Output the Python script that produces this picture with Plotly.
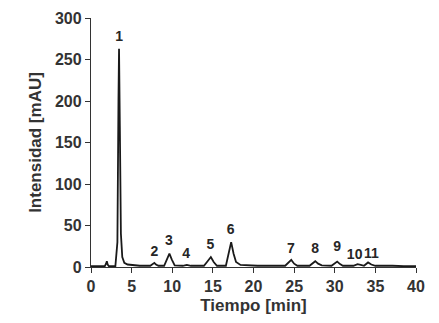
import plotly.graph_objects as go

# Chromatogram trace
time_min = [0, 1.7, 1.85, 1.95, 2.05, 2.2, 3.0, 3.25, 3.38, 3.45, 3.55, 3.68, 3.85, 4.1, 4.5, 5.2, 6.0, 7.3,
            7.6, 7.8, 8.0, 8.3, 9.0, 9.35, 9.65, 9.95, 10.3, 11.3, 11.8, 12.3, 13.9, 14.35, 14.75, 15.1, 15.5,
            16.6, 16.95, 17.25, 17.55, 17.85, 18.4, 19.2, 20.5, 23.9, 24.3, 24.65, 25.0, 25.4, 26.9, 27.25,
            27.6, 27.95, 28.4, 29.6, 29.95, 30.3, 30.65, 31.0, 32.3, 32.8, 33.2, 33.6, 34.1, 34.5, 35.0, 36.1,
            36.6, 37.1, 38.5, 40]
intensity = [1, 1, 4, 7, 3, 1, 1, 30, 200, 263, 170, 40, 12, 5, 3, 2, 1.5, 1.5,
             3, 5, 3, 1.5, 1.5, 9, 16, 9, 2, 1.5, 2.5, 1.5, 1.5, 7, 12, 6, 1.5,
             1.5, 16, 30, 16, 6, 2.5, 2, 1.5, 1.5, 5, 8.5, 4, 1.5, 1.5, 4,
             7, 4, 2, 1.5, 4, 6.5, 3.5, 1.5, 1.5, 3.5, 2.5, 1.5, 5.5, 3, 1.5, 1.5,
             2, 1.5, 1, 1]

peak_labels = ["1", "2", "3", "4", "5", "6", "7", "8", "9", "10", "11"]
label_x = [3.45, 7.8, 9.6, 11.7, 14.7, 17.2, 24.6, 27.6, 30.3, 32.45, 34.5]
label_y = [276, 18, 31, 14.5, 26.5, 44.5, 21.5, 20.5, 23, 13.5, 14.5]

x_ticks = [0, 5, 10, 15, 20, 25, 30, 35, 40]
y_ticks = [0, 50, 100, 150, 200, 250, 300]

font = "Liberation Sans, Arial, sans-serif"
ink = "#333333"

fig = go.Figure()
fig.add_trace(go.Scatter(x=time_min, y=intensity, mode="lines",
                         line=dict(color="#1a1a1a", width=1.8), showlegend=False,
                         hoverinfo="skip"))
fig.add_trace(go.Scatter(x=label_x, y=label_y, mode="text", text=peak_labels,
                         textfont=dict(family=font, size=14, color="#262626", weight="bold"),
                         showlegend=False, hoverinfo="skip"))

fig.update_layout(
    width=439, height=323,
    margin=dict(l=83, r=31, t=10, b=64),
    paper_bgcolor="white", plot_bgcolor="white",
    font=dict(family=font, color=ink),
    xaxis=dict(range=[0, 40], tickvals=x_ticks, ticks="outside", ticklen=5, tickcolor=ink,
               showline=True, linecolor=ink, linewidth=1.3, showgrid=False, zeroline=False,
               automargin=False,
               tickfont=dict(family=font, size=16, color=ink, weight="bold"),
               title=dict(text="Tiempo [min]", font=dict(family=font, size=17, color=ink, weight="bold"),
                          standoff=4)),
    yaxis=dict(range=[0, 300], tickvals=y_ticks, ticks="outside", ticklen=5, tickcolor=ink,
               showline=True, linecolor=ink, linewidth=1.3, showgrid=False, zeroline=False,
               automargin=False,
               tickfont=dict(family=font, size=16, color=ink, weight="bold"),
               title=dict(text="Intensidad [mAU]", font=dict(family=font, size=17, color=ink, weight="bold"),
                          standoff=8)),
)

fig.write_html("out.html")
